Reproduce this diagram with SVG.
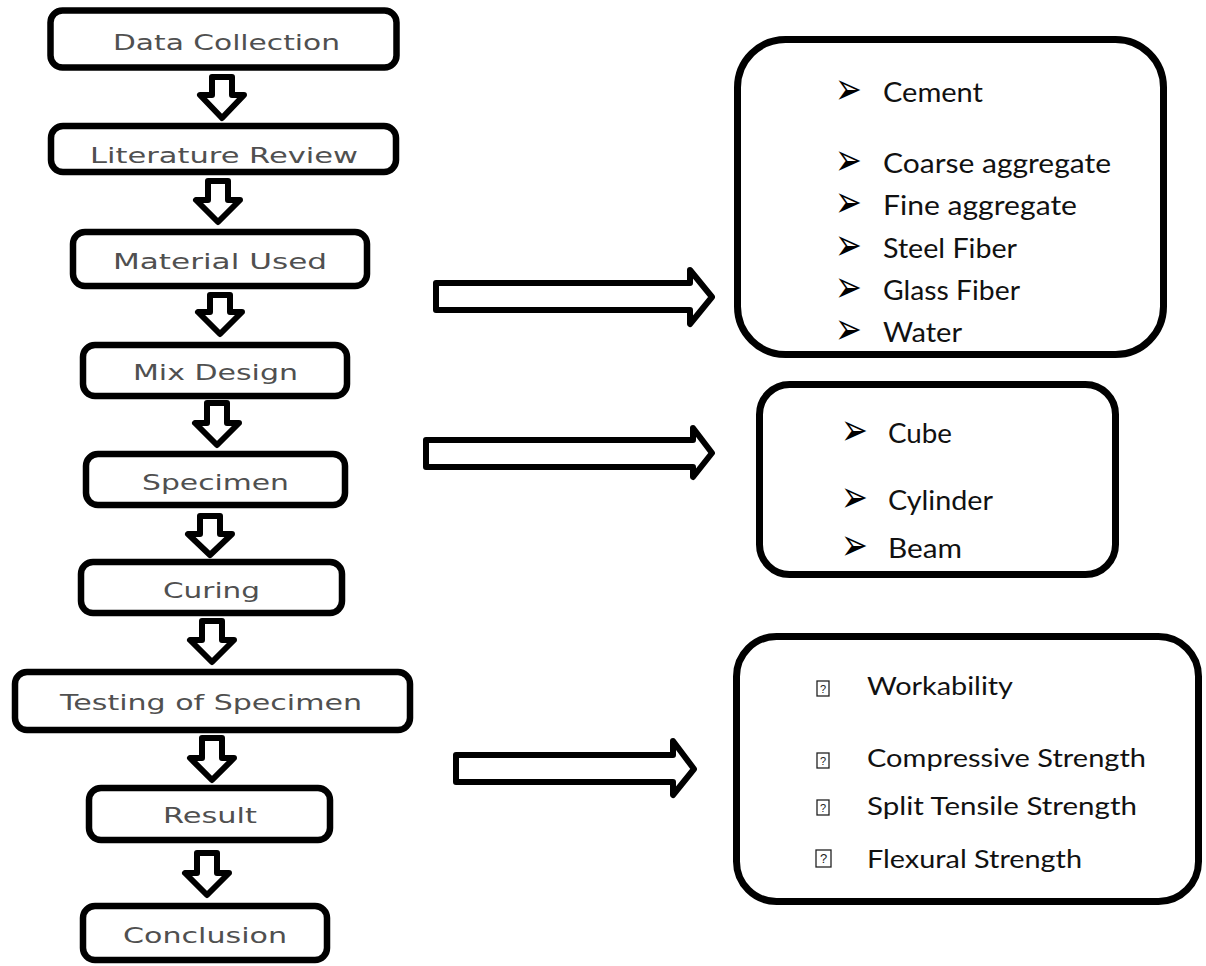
<svg xmlns="http://www.w3.org/2000/svg" width="1206" height="966" viewBox="0 0 1206 966">
<style>
.box{fill:#fff;stroke:#000;stroke-width:6.5}
.rbox{fill:#fff;stroke:#000;stroke-width:7}
.lbl{font-family:"DejaVu Sans",sans-serif;font-size:22px;fill:#505050}
.itm{font-family:Lato,"Open Sans",sans-serif;font-size:27px;fill:#111}
.itc{font-family:Lato,"Open Sans",sans-serif;font-size:25px;fill:#111}
.blt{font-family:"DejaVu Sans",sans-serif;font-size:32px;fill:#000}
.tofu{fill:#fff;stroke:#222;stroke-width:1.3}
.q{font-family:"Liberation Sans",sans-serif;font-size:11px;fill:#222;text-anchor:middle}
.arr{fill:#fff;stroke:#000;stroke-width:6;stroke-linejoin:round}
</style>
<rect width="1206" height="966" fill="#fff"/>
<g id="connectors">
<path class="arr" d="M212,77 L232,77 L232,95 L244,95 L222,118 L200,95 L212,95 Z"/>
<path class="arr" d="M208,181 L228,181 L228,200 L240,200 L218,222 L196,200 L208,200 Z"/>
<path class="arr" d="M210,295 L230,295 L230,312 L242,312 L220,334 L198,312 L210,312 Z"/>
<path class="arr" d="M207,403 L227,403 L227,423 L239,423 L217,445 L195,423 L207,423 Z"/>
<path class="arr" d="M200,516 L220,516 L220,534 L232,534 L210,555 L188,534 L200,534 Z"/>
<path class="arr" d="M202,621 L222,621 L222,640 L234,640 L212,662 L190,640 L202,640 Z"/>
<path class="arr" d="M202,738 L222,738 L222,758 L234,758 L212,780 L190,758 L202,758 Z"/>
<path class="arr" d="M197,853 L217,853 L217,873 L229,873 L207,895 L185,873 L197,873 Z"/>
<path class="arr" d="M436,283 L690,283 L690,270 L712,297 L690,324 L690,310 L436,310 Z"/>
<path class="arr" d="M426,440 L693,440 L693,428 L712,453 L693,477 L693,467 L426,467 Z"/>
<path class="arr" d="M456,755 L673,755 L673,741 L694,769 L673,795 L673,782 L456,782 Z"/>
</g>
<g id="n-data-collection"><rect class="box" x="50.5" y="10.5" width="346" height="57" rx="12"/><text class="lbl" x="113" y="50" textLength="227" lengthAdjust="spacingAndGlyphs">Data Collection</text></g>
<g id="n-literature-review"><rect class="box" x="51" y="126" width="345" height="46" rx="12"/><text class="lbl" x="90" y="163" textLength="268" lengthAdjust="spacingAndGlyphs">Literature Review</text></g>
<g id="n-material-used"><rect class="box" x="73" y="232" width="294" height="54" rx="12"/><text class="lbl" x="113" y="269" textLength="214" lengthAdjust="spacingAndGlyphs">Material Used</text></g>
<g id="n-mix-design"><rect class="box" x="83" y="345" width="264" height="51" rx="12"/><text class="lbl" x="133" y="380" textLength="165" lengthAdjust="spacingAndGlyphs">Mix Design</text></g>
<g id="n-specimen"><rect class="box" x="86" y="454" width="259" height="51" rx="12"/><text class="lbl" x="142" y="490" textLength="147" lengthAdjust="spacingAndGlyphs">Specimen</text></g>
<g id="n-curing"><rect class="box" x="81" y="562" width="261" height="51" rx="12"/><text class="lbl" x="163" y="598" textLength="97" lengthAdjust="spacingAndGlyphs">Curing</text></g>
<g id="n-testing"><rect class="box" x="15" y="672" width="395" height="58" rx="12"/><text class="lbl" x="60" y="710" textLength="302" lengthAdjust="spacingAndGlyphs">Testing of Specimen</text></g>
<g id="n-result"><rect class="box" x="89" y="788" width="241" height="52" rx="12"/><text class="lbl" x="163" y="823" textLength="94" lengthAdjust="spacingAndGlyphs">Result</text></g>
<g id="n-conclusion"><rect class="box" x="83" y="906" width="244" height="54" rx="12"/><text class="lbl" x="123" y="943" textLength="164" lengthAdjust="spacingAndGlyphs">Conclusion</text></g>
<g id="n-materials">
<rect class="rbox" x="737.5" y="39.5" width="426" height="315" rx="48"/>
<text class="blt" x="835" y="100" transform="matrix(1,0,0,1.4,0,-36)">➢</text><text class="itm" x="883" y="102" textLength="100" lengthAdjust="spacingAndGlyphs">Cement</text>
<text class="blt" x="835" y="171" transform="matrix(1,0,0,1.4,0,-64.4)">➢</text><text class="itm" x="883" y="173" textLength="228" lengthAdjust="spacingAndGlyphs">Coarse aggregate</text>
<text class="blt" x="835" y="213" transform="matrix(1,0,0,1.4,0,-81.2)">➢</text><text class="itm" x="883" y="215" textLength="194" lengthAdjust="spacingAndGlyphs">Fine aggregate</text>
<text class="blt" x="835" y="256" transform="matrix(1,0,0,1.4,0,-98.4)">➢</text><text class="itm" x="883" y="258" textLength="134" lengthAdjust="spacingAndGlyphs">Steel Fiber</text>
<text class="blt" x="835" y="298" transform="matrix(1,0,0,1.4,0,-115.2)">➢</text><text class="itm" x="883" y="300" textLength="137" lengthAdjust="spacingAndGlyphs">Glass Fiber</text>
<text class="blt" x="835" y="340" transform="matrix(1,0,0,1.4,0,-132)">➢</text><text class="itm" x="883" y="342" textLength="79" lengthAdjust="spacingAndGlyphs">Water</text>
</g>
<g id="n-specimens">
<rect class="rbox" x="759.5" y="384.5" width="356" height="190" rx="30"/>
<text class="blt" x="841" y="441" transform="matrix(1,0,0,1.4,0,-172.4)">➢</text><text class="itm" x="888" y="443" textLength="64" lengthAdjust="spacingAndGlyphs">Cube</text>
<text class="blt" x="841" y="508" transform="matrix(1,0,0,1.4,0,-199.2)">➢</text><text class="itm" x="888" y="510" textLength="105" lengthAdjust="spacingAndGlyphs">Cylinder</text>
<text class="blt" x="841" y="556" transform="matrix(1,0,0,1.4,0,-218.4)">➢</text><text class="itm" x="888" y="558" textLength="74" lengthAdjust="spacingAndGlyphs">Beam</text>
</g>
<g id="n-tests">
<rect class="rbox" x="736.5" y="636.5" width="462" height="265" rx="40"/>
<rect class="tofu" x="817" y="681" width="12" height="15"/><text class="q" x="823" y="692.5">?</text><text class="itc" x="867" y="695" textLength="146" lengthAdjust="spacingAndGlyphs">Workability</text>
<rect class="tofu" x="817" y="753" width="12" height="15"/><text class="q" x="823" y="764.5">?</text><text class="itc" x="867" y="767" textLength="279" lengthAdjust="spacingAndGlyphs">Compressive Strength</text>
<rect class="tofu" x="817" y="800" width="12" height="15"/><text class="q" x="823" y="811.5">?</text><text class="itc" x="867" y="815" textLength="270" lengthAdjust="spacingAndGlyphs">Split Tensile Strength</text>
<rect class="tofu" x="816" y="850" width="15" height="17"/><text class="q" x="823.5" y="863" style="font-size:13px">?</text><text class="itc" x="867" y="868" textLength="215" lengthAdjust="spacingAndGlyphs">Flexural Strength</text>
</g>
</svg>
